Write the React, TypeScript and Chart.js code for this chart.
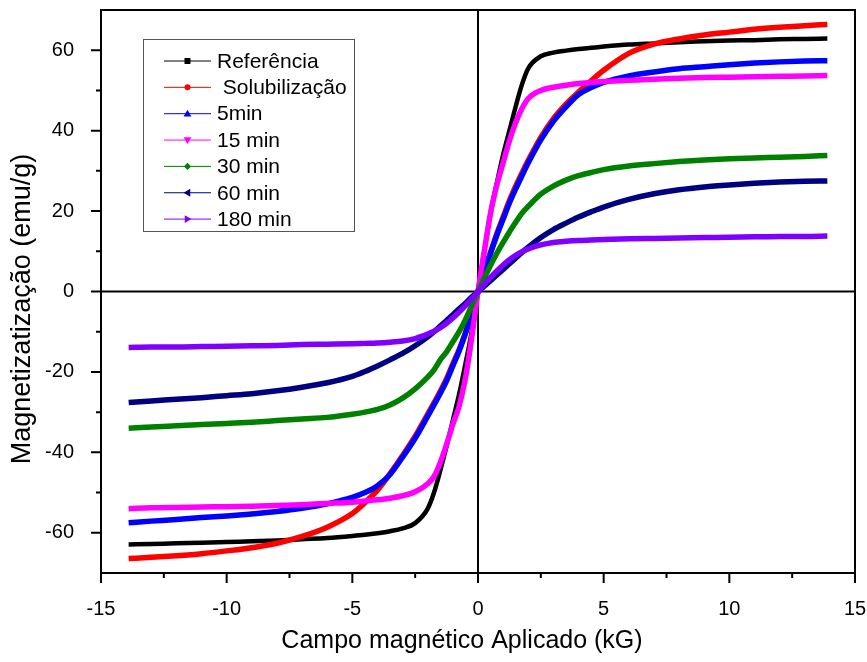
import React, { useEffect, useRef } from 'react';
import { Chart, registerables } from 'chart.js';

Chart.register(...registerables);

// Applied field (kG)
const fieldKG = [
  -13.9, -13, -12, -11, -10, -9, -8, -7, -6, -5, -4.5, -4, -3.5, -3, -2.5, -2,
  -1.75, -1.5, -1.25, -1, -0.75, -0.5, -0.25, 0, 0.25, 0.5, 0.75, 1, 1.25, 1.5,
  1.75, 2, 2.5, 3, 3.5, 4, 4.5, 5, 6, 7, 8, 9, 10, 11, 12, 13, 13.9,
];

const referencia = [
  -62.9, -62.8, -62.6, -62.5, -62.3, -62.1, -61.9, -61.6, -61.3, -60.8, -60.5, -60.1, -59.6, -58.9, -57.6, -54,
  -50, -44.5, -38.5, -32, -25.5, -18, -10, 0, 10, 19.5, 27, 34, 40, 46,
  51.5, 55.5, 58.5, 59.4, 59.9, 60.3, 60.6, 60.9, 61.4, 61.7, 62.0, 62.2, 62.4, 62.5, 62.7, 62.8, 62.9,
];

const solubilizacao = [
  -66.4, -66.1, -65.7, -65.2, -64.5, -63.7, -62.6, -60.9, -58.6, -55.2, -52.5, -49.4, -45.3, -40.8, -36, -30.5,
  -27.7, -24.8, -21.7, -18, -14.4, -10.2, -5.3, 0, 5.2, 9.8, 14.4, 18.5, 22.6, 26.2,
  29.5, 32.6, 38.3, 43, 46.6, 49.6, 52.4, 55, 59.2, 61.5, 62.8, 63.8, 64.5, 65.2, 65.7, 66.1, 66.4,
];

const min5 = [
  -57.5, -57.1, -56.7, -56.2, -55.8, -55.3, -54.7, -53.9, -52.8, -51.2, -50, -48.3, -45.5, -41.2, -36.5, -31,
  -28.2, -25.3, -22.2, -18.5, -14.8, -10.5, -5.5, 0, 5, 9.5, 14, 18, 22, 25.5,
  28.8, 32, 37.7, 42.3, 45.9, 49, 50.7, 52, 53.6, 54.6, 55.4, 55.9, 56.4, 56.8, 57.1, 57.3, 57.4,
];

const min15 = [
  -54, -53.8, -53.7, -53.6, -53.5, -53.4, -53.2, -53, -52.7, -52.4, -52.1, -51.8, -51.4, -50.8, -49.8, -47.8,
  -46, -42.5, -38, -33, -28.5, -21.5, -11.5, 0, 10, 19.5, 26.5, 32, 37.5, 42,
  45.5, 48, 50, 50.8, 51.3, 51.7, 52, 52.2, 52.5, 52.8, 53, 53.2, 53.3, 53.4, 53.5, 53.6, 53.7,
];

const min30 = [
  -34, -33.7, -33.4, -33.1, -32.8, -32.5, -32.1, -31.7, -31.3, -30.5, -30, -29.3, -28.2, -26.5, -24.2, -21.3,
  -19.5, -17, -15, -12.5, -10, -7, -3.5, 0, 3.3, 6.5, 9.5, 12.2, 14.8, 17.2,
  19.5, 21.2, 24.2, 26.2, 27.7, 28.8, 29.6, 30.3, 31.2, 31.8, 32.3, 32.7, 33, 33.2, 33.4, 33.6, 33.8,
];

const min60 = [
  -27.6, -27.2, -26.8, -26.4, -25.9, -25.4, -24.7, -23.8, -22.7, -21.1, -19.9, -18.5, -17, -15.4, -13.5, -11.3,
  -10, -8.6, -7.2, -5.8, -4.3, -2.9, -1.4, 0, 1.3, 2.7, 4.1, 5.5, 6.9, 8.3,
  9.7, 11, 13.4, 15.4, 17, 18.5, 19.8, 21, 22.9, 24.3, 25.3, 26, 26.5, 26.9, 27.2, 27.4, 27.5,
];

const min180 = [
  -13.9, -13.8, -13.8, -13.7, -13.6, -13.5, -13.4, -13.2, -13.1, -13, -12.9, -12.8, -12.6, -12.3, -11.7, -10.6,
  -9.9, -9, -7.9, -6.6, -5.1, -3.5, -1.8, 0, 1.8, 3.5, 5.1, 6.6, 7.9, 9,
  9.9, 10.6, 11.6, 12.2, 12.5, 12.7, 12.8, 12.9, 13.1, 13.2, 13.3, 13.4, 13.5, 13.6, 13.7, 13.7, 13.8,
];

const seriesNames = ['Referência', ' Solubilização', '5min', '15 min', '30 min', '60 min', '180 min'];
const seriesValues = [referencia, solubilizacao, min5, min15, min30, min60, min180];
const seriesColors = ['#000000', '#ff0000', '#0000ff', '#ff00ff', '#008000', '#000080', '#8000ff'];
const markerShapes = ['square', 'circle', 'up', 'down', 'diamond', 'left', 'right'];

const xTickValues = [-15, -10, -5, 0, 5, 10, 15];
const xMinorValues = [-12.5, -7.5, -2.5, 2.5, 7.5, 12.5];
const yTickValues = [-60, -40, -20, 0, 20, 40, 60];
const yMinorValues = [-50, -30, -10, 10, 30, 50];

const xTitle = 'Campo magnético Aplicado (kG)';
const yTitle = 'Magnetizatização (emu/g)';

const FONT = 'Arial, "Liberation Sans", sans-serif';

function drawMarker(ctx: CanvasRenderingContext2D, shape: string, x: number, y: number, r: number) {
  ctx.beginPath();
  if (shape === 'square') {
    ctx.rect(x - r, y - r, 2 * r, 2 * r);
  } else if (shape === 'circle') {
    ctx.arc(x, y, r, 0, Math.PI * 2);
  } else if (shape === 'diamond') {
    ctx.moveTo(x, y - r * 1.2);
    ctx.lineTo(x + r * 1.2, y);
    ctx.lineTo(x, y + r * 1.2);
    ctx.lineTo(x - r * 1.2, y);
    ctx.closePath();
  } else {
    const R = r * 1.3;
    let pts: number[][] = [];
    if (shape === 'up') pts = [[0, -R], [R, R * 0.7], [-R, R * 0.7]];
    if (shape === 'down') pts = [[0, R], [R, -R * 0.7], [-R, -R * 0.7]];
    if (shape === 'left') pts = [[-R, 0], [R * 0.7, -R], [R * 0.7, R]];
    if (shape === 'right') pts = [[R, 0], [-R * 0.7, -R], [-R * 0.7, R]];
    ctx.moveTo(x + pts[0][0], y + pts[0][1]);
    ctx.lineTo(x + pts[1][0], y + pts[1][1]);
    ctx.lineTo(x + pts[2][0], y + pts[2][1]);
    ctx.closePath();
  }
  ctx.fill();
}

const zeroScalePadding = (s: any) => {
  s.paddingTop = 0;
  s.paddingBottom = 0;
  s.paddingLeft = 0;
  s.paddingRight = 0;
};

const decorPlugin = {
  id: 'decor',
  beforeDatasetsDraw(chart: any) {
    const { ctx, chartArea: a, scales } = chart;
    const x0 = scales.x.getPixelForValue(0);
    const y0 = scales.y.getPixelForValue(0);
    ctx.save();
    ctx.strokeStyle = '#000';
    ctx.lineWidth = 2;
    ctx.beginPath();
    ctx.moveTo(x0, a.top);
    ctx.lineTo(x0, a.bottom);
    ctx.moveTo(a.left, y0);
    ctx.lineTo(a.right, y0);
    ctx.stroke();
    ctx.restore();
  },
  afterDraw(chart: any) {
    const { ctx, chartArea: a, scales } = chart;
    const xs = scales.x;
    const ys = scales.y;
    ctx.save();
    ctx.strokeStyle = '#000';
    ctx.lineWidth = 2;
    // top and right frame
    ctx.beginPath();
    ctx.moveTo(a.left, a.top);
    ctx.lineTo(a.right, a.top);
    ctx.lineTo(a.right, a.bottom);
    ctx.stroke();
    // ticks
    ctx.beginPath();
    xTickValues.forEach((v) => {
      const p = xs.getPixelForValue(v);
      ctx.moveTo(p, a.bottom);
      ctx.lineTo(p, a.bottom + 10);
    });
    xMinorValues.forEach((v) => {
      const p = xs.getPixelForValue(v);
      ctx.moveTo(p, a.bottom);
      ctx.lineTo(p, a.bottom + 5);
    });
    yTickValues.forEach((v) => {
      const p = ys.getPixelForValue(v);
      ctx.moveTo(a.left, p);
      ctx.lineTo(a.left - 10, p);
    });
    yMinorValues.forEach((v) => {
      const p = ys.getPixelForValue(v);
      ctx.moveTo(a.left, p);
      ctx.lineTo(a.left - 5, p);
    });
    ctx.stroke();

    // axis titles
    ctx.fillStyle = '#000';
    ctx.textAlign = 'center';
    ctx.textBaseline = 'middle';
    ctx.font = `25px ${FONT}`;
    ctx.fillText(xTitle, 462, 641);
    ctx.save();
    ctx.translate(23, 309);
    ctx.rotate(-Math.PI / 2);
    ctx.font = `27px ${FONT}`;
    ctx.fillText(yTitle, 0, 0);
    ctx.restore();

    // legend
    const lx = 143.5, ly = 39.5, lw = 211, lh = 192;
    ctx.fillStyle = '#fff';
    ctx.fillRect(lx, ly, lw, lh);
    ctx.strokeStyle = '#555';
    ctx.lineWidth = 1;
    ctx.strokeRect(lx, ly, lw, lh);
    ctx.font = `21px ${FONT}`;
    ctx.textAlign = 'left';
    ctx.textBaseline = 'middle';
    seriesNames.forEach((name, i) => {
      const yy = 61 + i * 26.35;
      ctx.strokeStyle = seriesColors[i];
      ctx.lineWidth = 1;
      ctx.beginPath();
      ctx.moveTo(164, yy);
      ctx.lineTo(211, yy);
      ctx.stroke();
      ctx.fillStyle = seriesColors[i];
      drawMarker(ctx, markerShapes[i], 187.5, yy, 3);
      ctx.fillStyle = '#000';
      ctx.fillText(name, 217, yy + 1);
    });
    ctx.restore();
  },
};

export default function App() {
  const canvasRef = useRef<HTMLCanvasElement | null>(null);

  useEffect(() => {
    document.body.style.margin = '0';
    const canvas = canvasRef.current;
    if (!canvas) return;
    const datasets = seriesValues.map((vals, i) => ({
      label: seriesNames[i],
      data: fieldKG.map((x, k) => ({ x, y: vals[k] })),
      borderColor: seriesColors[i],
      backgroundColor: seriesColors[i],
      borderWidth: i === 0 ? 4.5 : 5.5,
      pointRadius: 0,
      fill: false,
      cubicInterpolationMode: 'monotone' as const,
      order: seriesValues.length - i,
    }));
    const chart = new Chart(canvas, {
      type: 'line',
      data: { datasets },
      options: {
        responsive: false,
        animation: false,
        devicePixelRatio: 1,
        layout: { padding: { top: 10, right: 12, left: 0, bottom: 0 } },
        plugins: { legend: { display: false }, tooltip: { enabled: false } },
        scales: {
          x: {
            type: 'linear',
            min: -15,
            max: 15,
            afterBuildTicks: (s: any) => {
              s.ticks = xTickValues.map((v) => ({ value: v }));
            },
            ticks: {
              font: { family: FONT, size: 20 },
              color: '#000',
              padding: 16,
              maxRotation: 0,
              autoSkip: false,
            },
            grid: { display: false },
            border: { display: true, color: '#000', width: 2 },
            afterFit: (s: any) => {
              s.height = 89;
              zeroScalePadding(s);
            },
          },
          y: {
            type: 'linear',
            min: -70,
            max: 70,
            afterBuildTicks: (s: any) => {
              s.ticks = yTickValues.map((v) => ({ value: v }));
            },
            ticks: {
              font: { family: FONT, size: 20 },
              color: '#000',
              padding: 19,
              autoSkip: false,
            },
            grid: { display: false },
            border: { display: true, color: '#000', width: 2 },
            afterFit: (s: any) => {
              s.width = 101;
              zeroScalePadding(s);
            },
          },
        },
      },
      plugins: [decorPlugin],
    });
    return () => chart.destroy();
  }, []);

  return (
    <div style={{ width: 867, height: 662 }}>
      <canvas ref={canvasRef} width={867} height={662} style={{ display: 'block' }} />
    </div>
  );
}
